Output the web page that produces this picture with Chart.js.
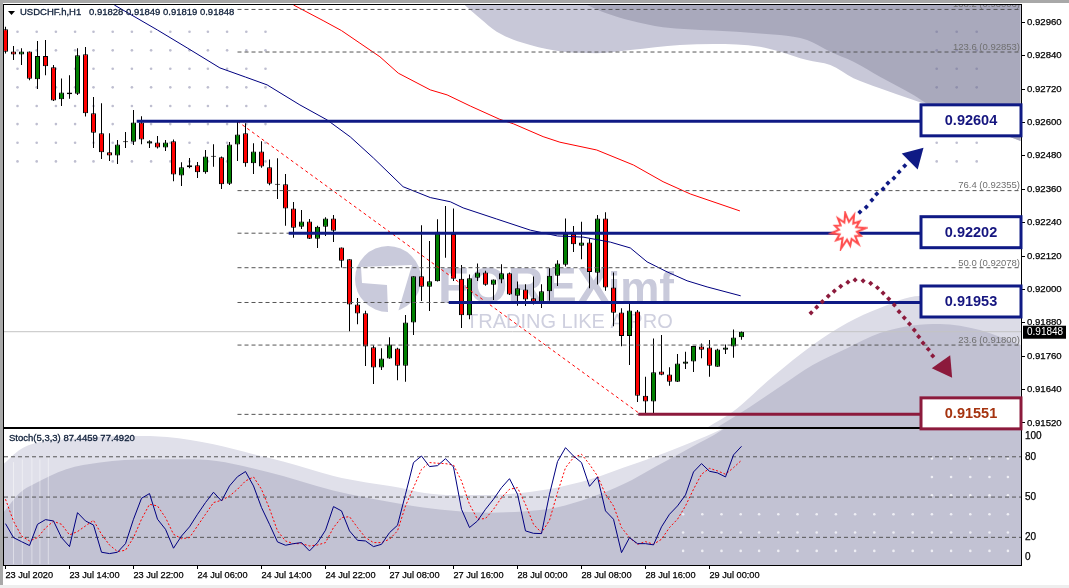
<!DOCTYPE html>
<html>
<head>
<meta charset="utf-8">
<title>USDCHF H1</title>
<script src="https://cdn.jsdelivr.net/npm/chart.js@4/dist/chart.umd.min.js"></script>
<style>
  html, body { margin: 0; padding: 0; background: #fff; width: 1069px; height: 588px; overflow: hidden; }
  #frame-top { position: absolute; left: 0; top: 0; width: 1069px; height: 3px; background: #a8a8a8; }
  #frame-left { position: absolute; left: 0; top: 0; width: 3px; height: 588px; background: #a8a8a8; }
  #frame-bottom { position: absolute; left: 0; top: 585px; width: 1069px; height: 3px; background: #eeeeee; }
  canvas { position: absolute; left: 0; }
  #priceChart { top: 0; z-index: 2; }
  #stochChart { top: 428px; z-index: 1; }
</style>
</head>
<body>
<div id="frame-top"></div><div id="frame-left"></div><div id="frame-bottom"></div>
<canvas id="priceChart" width="1069" height="431"></canvas>
<canvas id="stochChart" width="1069" height="160"></canvas>
<script>
// candles, one per hour from 23 Jul 2020 06:00
const opens = [0.92935,0.92855,0.92844,0.92855,0.92755,0.92839,0.92798,0.92683,0.92708,0.92703,0.92845,0.92633,0.92561,0.92493,0.92481,0.92529,0.92531,0.92600,0.92524,0.92528,0.92510,0.92532,0.92409,0.92439,0.92446,0.92421,0.92477,0.92475,0.92380,0.92521,0.92561,0.92453,0.92496,0.92439,0.92376,0.92378,0.92291,0.92225,0.92244,0.92182,0.92225,0.92255,0.92151,0.92108,0.91946,0.91914,0.91792,0.91719,0.91752,0.91788,0.91726,0.91881,0.92047,0.92010,0.92029,0.92199,0.92199,0.92038,0.91907,0.92042,0.92061,0.92017,0.92036,0.92058,0.91977,0.92000,0.91968,0.91956,0.91993,0.92049,0.92089,0.92199,0.92157,0.92169,0.92060,0.92255,0.92007,0.91917,0.91833,0.91921,0.91618,0.91597,0.91705,0.91694,0.91668,0.91733,0.91741,0.91795,0.91791,0.91722,0.91783,0.91795,0.91828];
const highs = [0.92944,0.92875,0.92867,0.92855,0.92893,0.92896,0.92806,0.92758,0.92770,0.92867,0.92871,0.92691,0.92669,0.92561,0.92537,0.92566,0.92645,0.92622,0.92536,0.92551,0.92537,0.92539,0.92457,0.92472,0.92458,0.92501,0.92522,0.92478,0.92530,0.92602,0.92597,0.92525,0.92532,0.92467,0.92471,0.92415,0.92314,0.92285,0.92253,0.92229,0.92259,0.92267,0.92151,0.92108,0.91969,0.91923,0.91799,0.91789,0.91828,0.91790,0.91908,0.92047,0.92231,0.92174,0.92252,0.92300,0.92291,0.92088,0.92054,0.92093,0.92067,0.92036,0.92090,0.92061,0.92028,0.92019,0.92046,0.92019,0.92076,0.92105,0.92255,0.92228,0.92243,0.92183,0.92267,0.92277,0.92061,0.91932,0.91950,0.91926,0.91686,0.91824,0.91836,0.91720,0.91768,0.91776,0.91797,0.91806,0.91818,0.91787,0.91802,0.91856,0.91849];
const lows = [0.92848,0.92824,0.92806,0.92752,0.92720,0.92770,0.92677,0.92659,0.92685,0.92699,0.92621,0.92508,0.92469,0.92461,0.92451,0.92508,0.92519,0.92522,0.92508,0.92506,0.92497,0.92389,0.92372,0.92435,0.92400,0.92416,0.92441,0.92361,0.92375,0.92461,0.92441,0.92415,0.92437,0.92374,0.92325,0.92229,0.92186,0.92217,0.92181,0.92149,0.92192,0.92170,0.92079,0.91850,0.91875,0.91725,0.91660,0.91710,0.91751,0.91674,0.91668,0.91836,0.91958,0.91922,0.92028,0.92114,0.92030,0.91861,0.91893,0.92030,0.92013,0.91962,0.92022,0.91980,0.91941,0.91940,0.91946,0.91933,0.91959,0.92012,0.92082,0.92134,0.92108,0.92004,0.92018,0.91995,0.91868,0.91796,0.91728,0.91595,0.91554,0.91554,0.91692,0.91654,0.91667,0.91714,0.91703,0.91753,0.91686,0.91722,0.91768,0.91754,0.91819];
const closes = [0.92854,0.92844,0.92855,0.92757,0.92839,0.92802,0.92679,0.92708,0.92701,0.92841,0.92633,0.92563,0.92493,0.92481,0.92521,0.92529,0.92600,0.92539,0.92532,0.92510,0.92528,0.92413,0.92439,0.92446,0.92421,0.92478,0.92477,0.92378,0.92521,0.92557,0.92453,0.92496,0.92442,0.92380,0.92376,0.92291,0.92222,0.92244,0.92182,0.92225,0.92255,0.92211,0.92103,0.91946,0.91913,0.91795,0.91719,0.91752,0.91802,0.91726,0.91881,0.92047,0.92010,0.92029,0.92207,0.92199,0.92038,0.91907,0.92040,0.92061,0.92017,0.92036,0.92058,0.91982,0.92004,0.91964,0.91956,0.91993,0.92049,0.92093,0.92199,0.92162,0.92169,0.92063,0.92255,0.92007,0.91916,0.91833,0.91924,0.91618,0.91597,0.91702,0.91693,0.91668,0.91734,0.91741,0.91797,0.91783,0.91726,0.91784,0.91791,0.91827,0.91848];

// moving averages, read at a few bars and joined
const maBlueBars = [13.6,19,22.7,26.8,30,32.7,36.8,40.2,43.1,46,49.7,53.1,55.6,57.2,61.4,65.6,69,72.2,75.6,78.1,80.2,82.7,85.2,87.7,91.9];
const maBlueVals = [0.93022,0.92932,0.92868,0.92796,0.92763,0.92735,0.92663,0.92609,0.92548,0.92472,0.92369,0.92330,0.92315,0.92293,0.92253,0.92213,0.92192,0.92188,0.92170,0.92149,0.92099,0.92063,0.92031,0.92009,0.91977];
const maRedBars = [36,39.7,42,44.3,46.8,49.1,53.1,55.2,58.1,61.8,63.5,67.2,69.3,73.9,78.5,82.2,85.6,91.8];
const maRedVals = [0.93022,0.92966,0.92930,0.92885,0.92836,0.92777,0.92717,0.92699,0.92659,0.92611,0.92595,0.92549,0.92529,0.92501,0.92447,0.92387,0.92343,0.92282];

// stochastic
const stochK = [30.2,19.8,16.8,13.9,29.7,33.2,32.2,19.8,13.1,38.4,32.2,29.2,8.9,7.9,8.9,15.3,33.5,49.1,52.6,33.5,26,11.9,21,27.8,37.2,45.9,53.6,47.1,58.3,65.2,69,58.3,42.2,29.7,16.6,14.1,15.3,16.1,9.9,16.1,25.3,42.9,39.7,24.8,17.8,17.3,13.1,14.8,23.5,29,52.1,75.7,80.6,72.7,73.4,78.6,72.4,40.9,27.3,32.2,40.9,48.4,57,63.7,52.1,24.8,23,22.8,52.1,76.4,86.8,80.6,75.7,58,65,39.7,33.5,8.6,19.8,15.3,15.3,14.4,27.8,37.2,43.4,51.6,68.7,74.9,69.2,68,65,81.4,87.8];
const stochD = [48.4,32,21,17.3,19.8,27,32,29.7,21.8,24.3,28.5,32.7,22.3,14.3,9.4,10.4,19.8,33.5,44.6,43.4,34.7,22.3,19,19.8,28.5,37.2,45.9,47.6,50.8,55.8,62,65,55.8,41.4,24.8,17.3,15.3,15.3,13.6,14.3,16.1,27.3,34.7,35.4,27.3,19.8,16.1,16.1,18.6,24.8,43.4,57,70.7,75.7,75.2,74.9,73.9,62,44.6,33.5,34,40.9,49.6,55.8,57,44.6,29.7,23.5,32.7,53.3,71.9,79.4,81.9,74.4,65.7,52.1,43.4,27.3,19.8,14.8,16.8,14.8,18.6,27.3,33.5,43.4,55.8,67,71.4,69.5,67,71.9,77.4];

// axes
const priceTicks = [0.92960,0.92840,0.92720,0.92600,0.92480,0.92360,0.92240,0.92120,0.92000,0.91880,0.91760,0.91640,0.91520];
const stochTicks = [5,20,50,80,95];
const stochTickText = ['0','20','50','80','100'];
const stochLevels = [80,50,20];
const timeTickBars = [0,8,16,24,32,40,48,56,64,72,80,88];
const timeTickText = ['23 Jul 2020','23 Jul 14:00','23 Jul 22:00','24 Jul 06:00','24 Jul 14:00','24 Jul 22:00','27 Jul 08:00','27 Jul 16:00','28 Jul 00:00','28 Jul 08:00','28 Jul 16:00','29 Jul 00:00'];

// levels drawn on the chart
const fibPrices = [0.93006,0.92853,0.92604,0.92355,0.92202,0.92078,0.91953,0.91800,0.91551];
const fibNames = ['138.2','123.6','100.0','76.4','61.8','50.0','38.2','23.6','0.0'];
const fibShown = ['138.2','123.6','76.4','50.0','23.6'];
const fibStartBar = 29;
const fibTrendBars = [29,79.4];
const fibTrendVals = [0.92604,0.91551];
const levelPrices = [0.92604,0.92202,0.91953,0.91551];
const levelStarts = [16.4,35.4,55.4,79.1];
const levelColors = ['#0f1a85','#0f1a85','#0f1a85','#8c1a3c'];
const lastPrice = 0.91848;

// dotted arrows
const upArrowBars = [106.8,107.6,108.3,108.9,109.7,110.3,111.05,111.7,112.4];
const upArrowVals = [0.92278,0.92296,0.92321,0.92343,0.92361,0.92382,0.92400,0.92422,0.92444];
const upHead = [113.6,0.92476];
const downArrowBars = [100.7,101.4,102.1,102.85,103.6,104.4,105.3,106.2,107.2,108.15,109,109.7,110.4,111.1,111.7,112.35,113,113.6,114.15,114.7,115.35,115.9];
const downArrowVals = [0.91916,0.91936,0.91956,0.91976,0.91994,0.92011,0.92026,0.92034,0.92031,0.92022,0.92006,0.91987,0.91966,0.91944,0.91920,0.91898,0.91876,0.91854,0.91830,0.91807,0.91785,0.91761];
const downHead = [117.4,0.91721];
const starAt = [105.3,0.92211];

// background picture, upper swoosh
const topLightBars = [57.4,59.3,61.4,65.6,69.7,73.9,78.1,84.3,88.5,94.3,96.8,100.2,103.1,106,109.3,113.5,115.3,126.9];
const topLightVals = [0.93022,0.92974,0.92926,0.92878,0.92854,0.92849,0.92860,0.92878,0.92882,0.92872,0.92854,0.92824,0.92806,0.92759,0.92723,0.92681,0.92663,0.92533];
const topDarkBars = [72.7,75.1,78.1,82.2,88.5,94.3,96.8,100.2,103.1,106,109.3,113.5,115.5,126.9];
const topDarkVals = [0.93022,0.92992,0.92966,0.92942,0.92930,0.92920,0.92914,0.92896,0.92854,0.92818,0.92764,0.92699,0.92663,0.92533];
// lower swoosh in the price panel
const lowLightBars = [87.8,90.9,95.9,100.9,105.2,109.3,114.3,126.9];
const lowLightVals = [0.91505,0.91560,0.91686,0.91800,0.91879,0.91933,0.91976,0.91943];
const lowDarkBars = [89,93,96.8,100.9,105.2,109.3,113.4,116.8,121.8,126.9];
const lowDarkVals = [0.91505,0.91577,0.91650,0.91728,0.91789,0.91843,0.91870,0.91876,0.91854,0.91800];
// swoosh in the stochastic panel
const stLightBars = [-0.2,2.2,7.6,16,20.2,26,31,34.7,41,45.1,49.3,52.2,56,60.6,64.7,68.9,73.1,77.2,81.4,85.6,89.7,92,127];
const stLightVals = [75,86.8,93,95.5,94.8,89.3,81.9,76.4,65.7,60.8,57,53.3,51.6,51.6,53.3,57,63.2,71.9,80.6,90.5,101.2,110,115];
const stDarkBars = [-0.2,1.8,3.5,7.6,11.8,18,22.2,26.4,30.6,34.7,38.9,43,49.3,52.2,56.3,60.6,64.7,68.9,73.1,77.2,81.4,85.6,89.7,92,127];
const stDarkVals = [39,53.3,59.5,70.7,75.7,78.1,78.1,76.9,71.9,65.7,58.3,52.1,45.1,42.2,39.7,38.4,39.2,42.2,49.6,59.5,73.2,86.8,100.5,112,115];
const stStreakBars = [1,2.1,3.3,4.3,5.35];
const stStreakTops = [76,78,80,78,80];
// background dots
const dotBarsLeft = [1.5,3.9,6.3,8.7,11,13.4,15.8,18.2,20.6,23,25.3,27.7,30.1,32.5];
const dotRowsLeft = [0.92926,0.92859,0.92793,0.92726,0.92659,0.92594,0.92527,0.92460];
const dotBarsRight = [116.4,118.9,121.4];
const dotRowsRight = [0.92926,0.92859,0.92793,0.92726,0.92527,0.92460];
const stDotBars = [84.7,87.1,89.5,91.9,94.2,96.6,99,101.4,103.8,106.2,108.6,111,113.4,115.8,118.2,120.6,123,125.3];
const stDotRows = [37.2,23.6,9.9];
const stDotBarsUpper = [115.8,118.2,120.6,123,125.3];
const stDotRowsUpper = [78.7,65,51.3];

const FONT = 'Liberation Sans';
const xMin = -0.1875, xMax = 126.9375;

const pairs = (xs, ys) => xs.map((x, i) => ({ x: x, y: ys[i] }));
const grid = (xs, ys) => xs.flatMap(x => ys.map(y => ({ x: x, y: y })));
const hLine = (from, to, y) => [{ x: from, y: y }, { x: to, y: y }];

function lineDs(data, color, width, dash) {
  return { type: 'line', data: data, borderColor: color, borderWidth: width, borderDash: dash || [], pointRadius: 0, tension: 0, fill: false };
}
function areaDs(data, color, side) {
  return { type: 'line', data: data, borderWidth: 0, borderColor: color, backgroundColor: color, pointRadius: 0, cubicInterpolationMode: 'monotone', fill: side };
}
function dotDs(data, color, radius) {
  return { type: 'line', data: data, showLine: false, pointRadius: radius, pointBackgroundColor: color, pointBorderWidth: 0, fill: false };
}

// red burst behind the arrow
function makeStar() {
  const c = document.createElement('canvas');
  c.width = 40; c.height = 40;
  const g = c.getContext('2d');
  const outer = [17,15,18,14,17,15,19,15,17,14,16,18];
  g.beginPath();
  outer.forEach((r, k) => {
    const a = (k / outer.length) * Math.PI * 2 - 1.2;
    const b = a + Math.PI / outer.length;
    g.lineTo(20 + Math.cos(a) * r, 20 + Math.sin(a) * r);
    g.lineTo(20 + Math.cos(b) * 9, 20 + Math.sin(b) * 9);
  });
  g.closePath();
  g.fillStyle = '#fff';
  g.fill();
  g.strokeStyle = '#ff4d4d';
  g.lineWidth = 2;
  g.stroke();
  return c;
}

function drawWatermark(chart) {
  const ctx = chart.ctx;
  ctx.save();
  ctx.fillStyle = '#c9cadb';
  ctx.beginPath();
  ctx.arc(388, 279, 33, 0, Math.PI * 2);
  ctx.fill();
  ctx.fillStyle = '#fff';
  ctx.beginPath();
  ctx.moveTo(361, 267); ctx.lineTo(412, 265); ctx.lineTo(398, 312); ctx.lineTo(388, 312);
  ctx.lineTo(387, 285); ctx.lineTo(362, 283);
  ctx.closePath();
  ctx.fill();
  ctx.fillStyle = '#c9cadb';
  ctx.textAlign = 'left';
  ctx.textBaseline = 'alphabetic';
  ctx.font = 'bold 50px "' + FONT + '"';
  ctx.fillText('FOREX', 438, 303);
  ctx.font = 'bold 44px "' + FONT + '"';
  ctx.fillText('imf', 608, 303);
  ctx.fillStyle = '#cfd0df';
  ctx.font = '20px "' + FONT + '"';
  ctx.fillText('TRADING LIKE A PRO', 466, 328);
  ctx.restore();
}

function drawFibLabels(chart) {
  const ctx = chart.ctx, a = chart.chartArea, y = chart.scales.y;
  ctx.save();
  ctx.beginPath();
  ctx.rect(a.left, a.top, a.right - a.left, a.bottom - a.top);
  ctx.clip();
  ctx.font = '9.5px "' + FONT + '"';
  ctx.fillStyle = '#707070';
  ctx.textAlign = 'right';
  ctx.textBaseline = 'bottom';
  fibPrices.forEach((p, i) => {
    if (fibShown.includes(fibNames[i])) {
      ctx.fillText(fibNames[i] + ' (' + p.toFixed(5) + ')', a.right - 1, y.getPixelForValue(p));
    }
  });
  ctx.restore();
}

function drawBoxes(chart) {
  const ctx = chart.ctx, a = chart.chartArea, y = chart.scales.y;
  ctx.save();
  levelPrices.forEach((p, i) => {
    const c = y.getPixelForValue(p) - 1;
    ctx.fillStyle = '#fff';
    ctx.fillRect(a.right - 100, c - 15.5, 100, 31);
    ctx.strokeStyle = levelColors[i];
    ctx.lineWidth = 3;
    ctx.strokeRect(a.right - 100, c - 15.5, 100, 31);
    ctx.fillStyle = i === 3 ? '#a5330f' : '#15157f';
    ctx.font = 'bold 14.5px "' + FONT + '"';
    ctx.textAlign = 'center';
    ctx.textBaseline = 'middle';
    ctx.fillText(p.toFixed(5), a.right - 50, c + 1);
  });
  // last price tag on the axis
  const ly = y.getPixelForValue(lastPrice);
  ctx.fillStyle = '#000';
  ctx.fillRect(a.right + 2, ly - 6, 43, 13);
  ctx.fillStyle = '#fff';
  ctx.font = '10px "' + FONT + '"';
  ctx.textAlign = 'left';
  ctx.textBaseline = 'middle';
  ctx.fillText(lastPrice.toFixed(5), a.right + 6, ly + 1);
  ctx.restore();
}

function heavyText(ctx, text, x, y) {
  ctx.fillText(text, x, y);
  ctx.lineWidth = 0.3;
  ctx.strokeStyle = ctx.fillStyle;
  ctx.strokeText(text, x, y);
}

function drawHeader(chart) {
  const ctx = chart.ctx;
  ctx.save();
  ctx.fillStyle = '#000';
  ctx.beginPath();
  ctx.moveTo(8, 11); ctx.lineTo(15, 11); ctx.lineTo(11.5, 15);
  ctx.closePath();
  ctx.fill();
  ctx.font = '9.5px "' + FONT + '"';
  ctx.fillStyle = '#10203a';
  ctx.textAlign = 'left';
  ctx.textBaseline = 'middle';
  heavyText(ctx, 'USDCHF.h,H1', 20, 12.5);
  heavyText(ctx, opens[92].toFixed(5) + ' ' + highs[92].toFixed(5) + ' ' + lows[92].toFixed(5) + ' ' + closes[92].toFixed(5), 89, 12.5);
  ctx.restore();
}

const panelPlugin = {
  id: 'panel',
  beforeDraw(chart) {
    const a = chart.chartArea;
    chart.ctx.fillStyle = '#fff';
    chart.ctx.fillRect(a.left, a.top, a.right - a.left, a.bottom - a.top);
  },
  afterDraw(chart) {
    const a = chart.chartArea, ctx = chart.ctx;
    ctx.strokeStyle = '#000';
    ctx.lineWidth = 1;
    ctx.strokeRect(a.left - 0.5, a.top - 0.5, a.right - a.left + 1, a.bottom - a.top + 1);
  }
};

const pricePlugin = {
  id: 'priceDecor',
  beforeDatasetsDraw: drawWatermark,
  afterDraw(chart) {
    drawFibLabels(chart);
    drawBoxes(chart);
    drawHeader(chart);
  }
};

const stochPlugin = {
  id: 'stochDecor',
  afterDraw(chart) {
    const ctx = chart.ctx;
    ctx.save();
    ctx.font = '9.5px "' + FONT + '"';
    ctx.fillStyle = '#10203a';
    ctx.textAlign = 'left';
    ctx.textBaseline = 'middle';
    heavyText(ctx, 'Stoch(5,3,3) 87.4459 77.4920', 9, 10);
    ctx.restore();
  }
};

const priceDatasets = [];
// first dataset ends up on top
priceDatasets.push({ type: 'line', data: [{ x: starAt[0], y: starAt[1] }], showLine: false, pointStyle: makeStar(), pointRadius: 20, fill: false });
priceDatasets.push({ type: 'line', data: [{ x: upHead[0], y: upHead[1] }], showLine: false, pointStyle: 'triangle', pointRadius: 13, pointRotation: 45, pointBackgroundColor: '#0f1a85', pointBorderWidth: 0, fill: false });
priceDatasets.push({ type: 'line', data: [{ x: downHead[0], y: downHead[1] }], showLine: false, pointStyle: 'triangle', pointRadius: 13, pointRotation: 145, pointBackgroundColor: '#8c1a3c', pointBorderWidth: 0, fill: false });
priceDatasets.push({ type: 'line', data: pairs(upArrowBars, upArrowVals), showLine: false, pointStyle: 'rectRot', pointRadius: 2.6, pointBackgroundColor: '#0f1a85', pointBorderWidth: 0, fill: false });
priceDatasets.push({ type: 'line', data: pairs(downArrowBars, downArrowVals), showLine: false, pointStyle: 'rectRot', pointRadius: 2.6, pointBackgroundColor: '#8c1a3c', pointBorderWidth: 0, fill: false });
levelPrices.forEach((p, i) => priceDatasets.push(lineDs(hLine(levelStarts[i], 115, p), levelColors[i], 3)));
fibPrices.forEach(p => priceDatasets.push(lineDs(hLine(fibStartBar, xMax, p), '#555', 1, [4, 3])));
priceDatasets.push(lineDs(pairs(fibTrendBars, fibTrendVals), '#ff0000', 1, [3, 3]));
priceDatasets.push(lineDs(pairs(maBlueBars, maBlueVals), '#000080', 1));
priceDatasets.push(lineDs(pairs(maRedBars, maRedVals), '#ff0000', 1));
priceDatasets.push({
  type: 'bar',
  data: opens.map((o, i) => ({ x: i, y: [o, closes[i]] })),
  backgroundColor: opens.map((o, i) => closes[i] > o ? '#008000' : closes[i] < o ? '#ff0000' : '#000'),
  borderColor: '#000', borderWidth: 1, borderSkipped: false, inflateAmount: 0,
  barThickness: 5, minBarLength: 1, grouped: false
});
priceDatasets.push({
  type: 'bar',
  data: opens.map((o, i) => ({ x: i, y: [lows[i], highs[i]] })),
  backgroundColor: '#000', borderWidth: 0, inflateAmount: 0,
  barThickness: 1, grouped: false
});
priceDatasets.push(lineDs(hLine(xMin, xMax, lastPrice), '#c4c4c4', 1));
priceDatasets.push(dotDs(grid(dotBarsLeft, dotRowsLeft), 'rgba(110,110,150,0.45)', 1.3));
priceDatasets.push(dotDs(grid(dotBarsRight, dotRowsRight), 'rgba(110,110,150,0.45)', 1.3));
priceDatasets.push(areaDs(pairs(topDarkBars, topDarkVals), '#a9a9bc', 'end'));
priceDatasets.push(areaDs(pairs(topLightBars, topLightVals), '#c8c8d8', 'end'));
priceDatasets.push(areaDs(pairs(lowDarkBars, lowDarkVals), '#c1c1d2', 'start'));
priceDatasets.push(areaDs(pairs(lowLightBars, lowLightVals), '#dcdce7', 'start'));

const stochDatasets = [];
stochDatasets.push(lineDs(pairs(stochK.map((v, i) => i), stochK), '#000080', 1));
stochDatasets.push(lineDs(pairs(stochD.map((v, i) => i), stochD), '#ff0000', 1, [2, 2]));
stochLevels.forEach(v => stochDatasets.push(lineDs(hLine(xMin, xMax, v), '#555', 1, [4, 3])));
stochDatasets.push(dotDs(grid(stDotBars, stDotRows), '#eeeef4', 1.3));
stochDatasets.push(dotDs(grid(stDotBarsUpper, stDotRowsUpper), '#eeeef4', 1.3));
stStreakBars.forEach((b, i) => stochDatasets.push(lineDs([{ x: b, y: 0 }, { x: b, y: stStreakTops[i] }], 'rgba(255,255,255,0.45)', 1)));
stochDatasets.push(areaDs(pairs(stDarkBars, stDarkVals), '#c2c2d3', 'start'));
stochDatasets.push(areaDs(pairs(stLightBars, stLightVals), '#e0e0ea', 'start'));

function fixRightAxis(scale) {
  scale.width = 48;
  scale.paddingTop = 0;
  scale.paddingBottom = 0;
}

new Chart(document.getElementById('priceChart'), {
  type: 'line',
  data: { datasets: priceDatasets },
  plugins: [panelPlugin, pricePlugin],
  options: {
    responsive: false, animation: false, devicePixelRatio: 1,
    layout: { autoPadding: false, padding: { left: 4, top: 5, right: 0, bottom: 4 } },
    plugins: { legend: { display: false }, tooltip: { enabled: false } },
    scales: {
      x: { type: 'linear', display: false, min: xMin, max: xMax, offset: false },
      y: {
        position: 'right', min: 0.915056, max: 0.93022,
        afterBuildTicks: s => { s.ticks = priceTicks.map(v => ({ value: v })); },
        afterFit: fixRightAxis,
        grid: { drawOnChartArea: false, color: '#000', tickLength: 4 },
        border: { display: false },
        ticks: { autoSkip: false, padding: 2, color: '#000', textStrokeColor: '#000', textStrokeWidth: 0.25, font: { family: FONT, size: 9.6 }, callback: v => v.toFixed(5) }
      }
    }
  }
});

new Chart(document.getElementById('stochChart'), {
  type: 'line',
  data: { datasets: stochDatasets },
  plugins: [panelPlugin, stochPlugin],
  options: {
    responsive: false, animation: false, devicePixelRatio: 1,
    layout: { autoPadding: false, padding: { left: 4, top: 1, right: 0, bottom: 0 } },
    plugins: { legend: { display: false }, tooltip: { enabled: false } },
    scales: {
      x: {
        type: 'linear', min: xMin, max: xMax,
        afterBuildTicks: s => { s.ticks = timeTickBars.map(v => ({ value: v })); },
        afterFit: s => { s.height = 23; s.paddingLeft = 0; s.paddingRight = 0; },
        grid: { drawOnChartArea: false, color: '#000', tickLength: 4 },
        border: { display: false },
        ticks: {
          autoSkip: false, maxRotation: 0, align: 'start', padding: 1, color: '#000', textStrokeColor: '#000', textStrokeWidth: 0.25, font: { family: FONT, size: 9.2 },
          callback: v => timeTickText[timeTickBars.indexOf(v)]
        }
      },
      y: {
        position: 'right', min: -0.6, max: 100.7,
        afterBuildTicks: s => { s.ticks = stochTicks.map(v => ({ value: v })); },
        afterFit: fixRightAxis,
        grid: { drawOnChartArea: false, drawTicks: false },
        border: { display: false },
        ticks: {
          autoSkip: false, padding: 4, color: '#000', textStrokeColor: '#000', textStrokeWidth: 0.25, font: { family: FONT, size: 10 },
          callback: v => stochTickText[stochTicks.indexOf(v)]
        }
      }
    }
  }
});
</script>
</body>
</html>
